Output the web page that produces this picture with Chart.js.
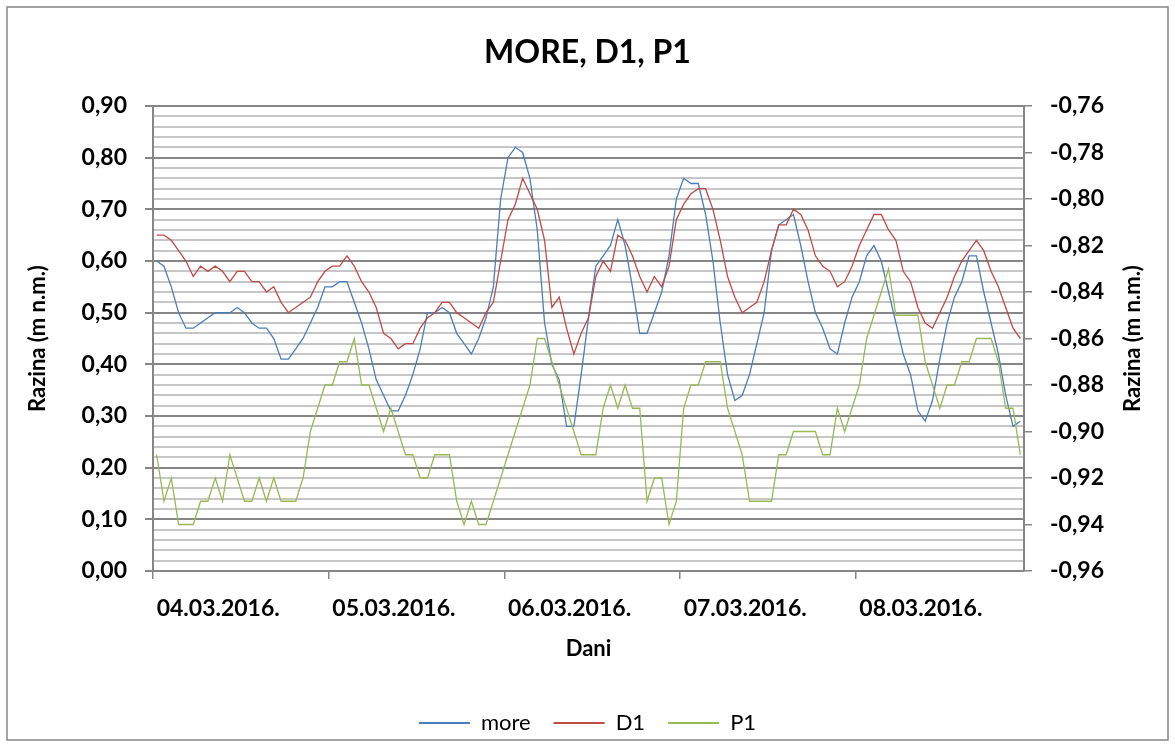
<!DOCTYPE html>
<html>
<head>
<meta charset="utf-8">
<title>MORE, D1, P1</title>
<script src="https://cdn.jsdelivr.net/npm/chart.js@4.4.1/dist/chart.umd.min.js"></script>
<style>
  html, body { margin: 0; padding: 0; background: #ffffff; }
  canvas { display: block; }
</style>
</head>
<body>
<canvas id="chart" width="1175" height="744"></canvas>
<script>
// Days shown on the category axis; one category per hour
const days = ['04.03.2016.', '05.03.2016.', '06.03.2016.', '07.03.2016.', '08.03.2016.'];
const hoursPerDay = 24;

// Hourly water levels (m n.m.)
const moreValues = [
  0.60, 0.59, 0.55, 0.50, 0.47, 0.47, 0.48, 0.49, 0.50, 0.50, 0.50, 0.51,
  0.50, 0.48, 0.47, 0.47, 0.45, 0.41, 0.41, 0.43, 0.45, 0.48, 0.51, 0.55,
  0.55, 0.56, 0.56, 0.52, 0.48, 0.43, 0.37, 0.34, 0.31, 0.31, 0.34, 0.38,
  0.43, 0.50, 0.50, 0.51, 0.50, 0.46, 0.44, 0.42, 0.45, 0.49, 0.55, 0.72,
  0.80, 0.82, 0.81, 0.76, 0.66, 0.48, 0.40, 0.37, 0.28, 0.28, 0.38, 0.49,
  0.59, 0.61, 0.63, 0.68, 0.63, 0.55, 0.46, 0.46, 0.50, 0.54, 0.61, 0.72,
  0.76, 0.75, 0.75, 0.69, 0.60, 0.48, 0.38, 0.33, 0.34, 0.38, 0.44, 0.50,
  0.62, 0.67, 0.68, 0.69, 0.63, 0.56, 0.50, 0.47, 0.43, 0.42, 0.48, 0.53,
  0.56, 0.61, 0.63, 0.60, 0.54, 0.48, 0.42, 0.38, 0.31, 0.29, 0.33, 0.41,
  0.48, 0.53, 0.56, 0.61, 0.61, 0.54, 0.48, 0.42, 0.34, 0.28, 0.29
];
const d1Values = [
  0.65, 0.65, 0.64, 0.62, 0.60, 0.57, 0.59, 0.58, 0.59, 0.58, 0.56, 0.58,
  0.58, 0.56, 0.56, 0.54, 0.55, 0.52, 0.50, 0.51, 0.52, 0.53, 0.56, 0.58,
  0.59, 0.59, 0.61, 0.59, 0.56, 0.54, 0.51, 0.46, 0.45, 0.43, 0.44, 0.44,
  0.47, 0.49, 0.50, 0.52, 0.52, 0.50, 0.49, 0.48, 0.47, 0.50, 0.52, 0.60,
  0.68, 0.71, 0.76, 0.73, 0.70, 0.64, 0.51, 0.53, 0.47, 0.42, 0.46, 0.49,
  0.57, 0.60, 0.58, 0.65, 0.64, 0.61, 0.57, 0.54, 0.57, 0.55, 0.59, 0.68,
  0.71, 0.73, 0.74, 0.74, 0.70, 0.64, 0.57, 0.53, 0.50, 0.51, 0.52, 0.56,
  0.62, 0.67, 0.67, 0.70, 0.69, 0.66, 0.61, 0.59, 0.58, 0.55, 0.56, 0.59,
  0.63, 0.66, 0.69, 0.69, 0.66, 0.64, 0.58, 0.56, 0.51, 0.48, 0.47, 0.50,
  0.53, 0.57, 0.60, 0.62, 0.64, 0.62, 0.58, 0.55, 0.51, 0.47, 0.45
];
const p1Values = [
  -0.91, -0.93, -0.92, -0.94, -0.94, -0.94, -0.93, -0.93, -0.92, -0.93, -0.91, -0.92,
  -0.93, -0.93, -0.92, -0.93, -0.92, -0.93, -0.93, -0.93, -0.92, -0.90, -0.89, -0.88,
  -0.88, -0.87, -0.87, -0.86, -0.88, -0.88, -0.89, -0.90, -0.89, -0.90, -0.91, -0.91,
  -0.92, -0.92, -0.91, -0.91, -0.91, -0.93, -0.94, -0.93, -0.94, -0.94, -0.93, -0.92,
  -0.91, -0.90, -0.89, -0.88, -0.86, -0.86, -0.87, -0.88, -0.89, -0.90, -0.91, -0.91,
  -0.91, -0.89, -0.88, -0.89, -0.88, -0.89, -0.89, -0.93, -0.92, -0.92, -0.94, -0.93,
  -0.89, -0.88, -0.88, -0.87, -0.87, -0.87, -0.89, -0.90, -0.91, -0.93, -0.93, -0.93,
  -0.93, -0.91, -0.91, -0.90, -0.90, -0.90, -0.90, -0.91, -0.91, -0.89, -0.90, -0.89,
  -0.88, -0.86, -0.85, -0.84, -0.83, -0.85, -0.85, -0.85, -0.85, -0.87, -0.88, -0.89,
  -0.88, -0.88, -0.87, -0.87, -0.86, -0.86, -0.86, -0.87, -0.89, -0.89, -0.91
];

// Labelled ticks of both value axes
const leftTickValues = [0.00, 0.10, 0.20, 0.30, 0.40, 0.50, 0.60, 0.70, 0.80, 0.90];
const rightTickValues = [-0.96, -0.94, -0.92, -0.90, -0.88, -0.86, -0.84, -0.82, -0.80, -0.78, -0.76];
const leftMinorStep = 0.02;

// One category per hour: "dd.mm.yyyy. hh:00"
const categories = [];
days.forEach(d => {
  for (let h = 0; h < hoursPerDay; h++) categories.push(d + ' ' + String(h).padStart(2, '0') + ':00');
});
categories.length = moreValues.length;

// Left axis: minor lines every 0.02, labels on the major ones
const leftGrid = [];
const leftMin = leftTickValues[0], leftMax = leftTickValues[leftTickValues.length - 1];
for (let k = 0; leftMin + k * leftMinorStep <= leftMax + 1e-9; k++) {
  leftGrid.push(Math.round((leftMin + k * leftMinorStep) * 100) / 100);
}
const isMajor = v => leftTickValues.some(t => Math.abs(t - v) < 1e-6);
const fmt = v => v.toFixed(2).replace('.', ',');

const FONT = 'Lato, "Open Sans", "DejaVu Sans", sans-serif';
const AXIS_GRAY = '#868686';
const MINOR_GRAY = '#c6c6c6';
const NONE = 'rgba(0,0,0,0)';

Chart.defaults.font.family = FONT;
Chart.defaults.color = '#000000';

// White background, outer frame and the three axis titles
const framePlugin = {
  id: 'frame',
  beforeDraw(chart) {
    const ctx = chart.ctx;
    ctx.save();
    ctx.fillStyle = '#ffffff';
    ctx.fillRect(0, 0, chart.width, chart.height);
    ctx.restore();
  },
  afterDraw(chart) {
    const ctx = chart.ctx;
    const a = chart.chartArea;
    ctx.save();
    ctx.strokeStyle = AXIS_GRAY;
    ctx.lineWidth = 1.5;
    ctx.strokeRect(7, 7, chart.width - 14, chart.height - 11);

    ctx.fillStyle = '#000000';
    ctx.font = 'bold 22px ' + FONT;
    ctx.textAlign = 'center';
    ctx.textBaseline = 'middle';
    const midY = (a.top + a.bottom) / 2;
    [[a.left - 115, midY], [a.right + 109, midY]].forEach(([x, y]) => {
      ctx.save();
      ctx.translate(x, y);
      ctx.rotate(-Math.PI / 2);
      ctx.fillText('Razina (m n.m.)', 0, 0);
      ctx.restore();
    });
    ctx.fillText('Dani', (a.left + a.right) / 2, a.bottom + 78);
    ctx.restore();
  }
};

new Chart(document.getElementById('chart'), {
  type: 'line',
  data: {
    labels: categories,
    datasets: [
      { label: 'more', data: moreValues, yAxisID: 'y', borderColor: '#4A7EBB', backgroundColor: '#4A7EBB', order: 3 },
      { label: 'D1', data: d1Values, yAxisID: 'y', borderColor: '#BE4B48', backgroundColor: '#BE4B48', order: 2 },
      { label: 'P1', data: p1Values, yAxisID: 'y2', borderColor: '#98B954', backgroundColor: '#98B954', order: 1 }
    ]
  },
  options: {
    responsive: false,
    animation: false,
    devicePixelRatio: 1,
    events: [],
    layout: { padding: 0 },
    elements: {
      line: { borderWidth: 1.3, tension: 0, fill: false },
      point: { radius: 0 }
    },
    plugins: {
      tooltip: { enabled: false },
      title: {
        display: true,
        text: 'MORE, D1, P1',
        color: '#000000',
        font: { family: FONT, size: 32, weight: 'bold', lineHeight: 1.2 },
        padding: { top: 33, bottom: 34.6 }
      },
      legend: {
        position: 'bottom',
        labels: {
          color: '#000000',
          font: { family: FONT, size: 22 },
          boxWidth: 51,
          boxHeight: 2,
          padding: 23,
          sort: (a, b) => a.datasetIndex - b.datasetIndex,
          generateLabels(chart) {
            const items = Chart.defaults.plugins.legend.labels.generateLabels(chart);
            items.forEach(it => { it.fillStyle = it.strokeStyle; it.lineWidth = 0; });
            return items;
          }
        }
      }
    },
    scales: {
      x: {
        type: 'category',
        offset: true,
        afterFit(s) { s.height = 118; },
        grid: {
          offset: true,
          drawOnChartArea: false,
          drawTicks: true,
          tickLength: 8,
          lineWidth: 1.5,
          color: ctx => (ctx.index % hoursPerDay === 0 ? AXIS_GRAY : NONE),
          tickColor: ctx => (ctx.index % hoursPerDay === 0 ? AXIS_GRAY : NONE)
        },
        border: { display: true, color: AXIS_GRAY, width: 2 },
        ticks: {
          autoSkip: false,
          maxRotation: 0,
          minRotation: 0,
          align: 'start',
          padding: 16,
          color: '#000000',
          font: { family: FONT, size: 23, weight: 'bold', lineHeight: 1.2 },
          callback: (v, i) => (i % hoursPerDay === 0 ? days[i / hoursPerDay] : '')
        }
      },
      y: {
        position: 'left',
        min: leftMin,
        max: leftMax,
        afterBuildTicks(s) { s.ticks = leftGrid.map(v => ({ value: v })); },
        afterFit(s) { s.width = 153; },
        grid: {
          drawTicks: true,
          tickLength: 8,
          color: ctx => (ctx.tick && isMajor(ctx.tick.value) ? AXIS_GRAY : MINOR_GRAY),
          lineWidth: 2,
          tickColor: ctx => (ctx.tick && isMajor(ctx.tick.value) ? AXIS_GRAY : NONE)
        },
        border: { display: true, color: AXIS_GRAY, width: 2 },
        ticks: {
          autoSkip: false,
          padding: 18,
          color: '#000000',
          font: { family: FONT, size: 23, weight: 'bold', lineHeight: 1.2 },
          callback: v => (isMajor(v) ? fmt(v) : '')
        }
      },
      y2: {
        position: 'right',
        min: rightTickValues[0],
        max: rightTickValues[rightTickValues.length - 1],
        afterBuildTicks(s) { s.ticks = rightTickValues.map(v => ({ value: v })); },
        afterFit(s) { s.width = 151; },
        grid: {
          drawOnChartArea: false,
          drawTicks: true,
          tickLength: 8,
          lineWidth: 1.5,
          color: AXIS_GRAY
        },
        border: { display: true, color: AXIS_GRAY, width: 2 },
        ticks: {
          autoSkip: false,
          padding: 18,
          color: '#000000',
          font: { family: FONT, size: 23, weight: 'bold', lineHeight: 1.2 },
          callback: v => fmt(v)
        }
      }
    }
  },
  plugins: [framePlugin]
});
</script>
</body>
</html>
